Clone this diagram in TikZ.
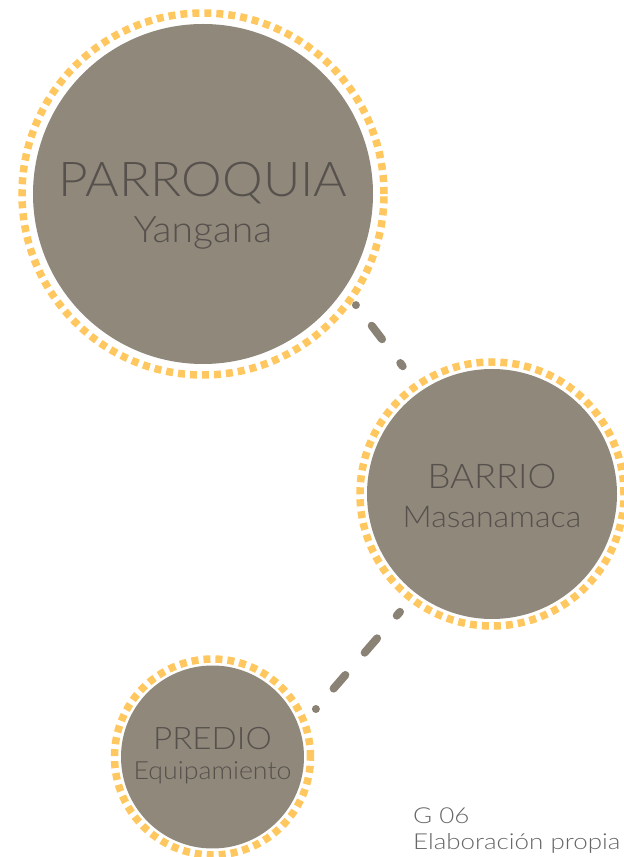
\documentclass[tikz,border=0pt]{standalone}
\usepackage{fontspec}
\setmainfont{Lato}[UprightFont=* Light,FakeStretch=1.07]
\newfontfamily\anchafont{Lato}[UprightFont=* Light,FakeStretch=1.18]
\usetikzlibrary{positioning}
\definecolor{gristopo}{HTML}{8F887B}
\definecolor{gristexto}{HTML}{57514D}
\definecolor{grisnota}{HTML}{666666}
\definecolor{amarillo}{HTML}{FFC75F}
\definecolor{grislinea}{HTML}{8A8274}

\begin{document}
\begin{tikzpicture}[x=1pt,y=1pt,
  nivel/.style={circle,fill=gristopo,inner sep=0pt},
  anillo/.style={amarillo,line width=7.5pt,dash pattern=on 7pt off 5pt},
  titulo/.style={text=gristexto,inner sep=0pt,anchor=base},
  nombre/.style={titulo,font=\anchafont},
  enlace/.style={grislinea,line width=8pt,line cap=round},
  nota/.style={text=grisnota,inner sep=0pt,anchor=base west,font=\anchafont\fontsize{22}{22}\selectfont}]
\useasboundingbox (0,0) rectangle (624,857);
% anillos
\draw[anillo] (203,663) circle (181);
\draw[anillo] (492,363) circle (132);
\draw[anillo] (212.5,100) circle (98);
% circulos
\node[nivel,minimum size=340pt] (parroquia) at (203,663) {};
\node[nivel,minimum size=250pt] (barrio) at (492,363) {};
\node[nivel,minimum size=183pt] (predio) at (212.5,100) {};
% textos
\node[titulo,font=\fontsize{48}{48}\selectfont] (parroquia-t) at ([yshift=-3pt]parroquia.center) {PARROQUIA};
\node[nombre,font=\fontsize{36.5}{36.5}\selectfont] (parroquia-n) at ([yshift=-49pt]parroquia.center) {Yangana};
\node[titulo,font=\fontsize{34}{34}\selectfont] (barrio-t) at ([yshift=5pt]barrio.center) {BARRIO};
\node[nombre,font=\fontsize{30}{30}\selectfont] (barrio-n) at ([yshift=-34pt]barrio.center) {Masanamaca};
\node[titulo,font=\fontsize{31}{31}\selectfont] (predio-t) at ([yshift=7pt]predio.center) {PREDIO};
\node[nombre,font=\fontsize{25}{25}\selectfont] (predio-n) at ([yshift=-23pt]predio.center) {Equipamiento};
% puntos de enlace
\coordinate (p-sal) at ([shift={(-36:189pt)}]parroquia.center);
\coordinate (b-arr) at ([shift={(124.7:142.3pt)}]barrio.center);
\coordinate (b-aba) at ([shift={(232.4:132.6pt)}]barrio.center);
\coordinate (d-sal) at ([shift={(24.9:114pt)}]predio.center);
\draw[enlace,dash pattern=on 0pt off 26pt on 17pt off 30pt on 4pt off 13.6pt on 0pt off 80pt] (p-sal) -- (b-arr);
\draw[enlace,dash pattern=on 0pt off 27pt on 18pt off 29.5pt on 19pt off 30pt on 5pt off 17pt on 0pt off 80pt] (d-sal) -- (b-aba);
% fuente
\node[nota] (grafico) at (413,34) {G 06};
\node[nota] (fuente) at (413,7) {Elaboración propia};
\end{tikzpicture}
\end{document}
